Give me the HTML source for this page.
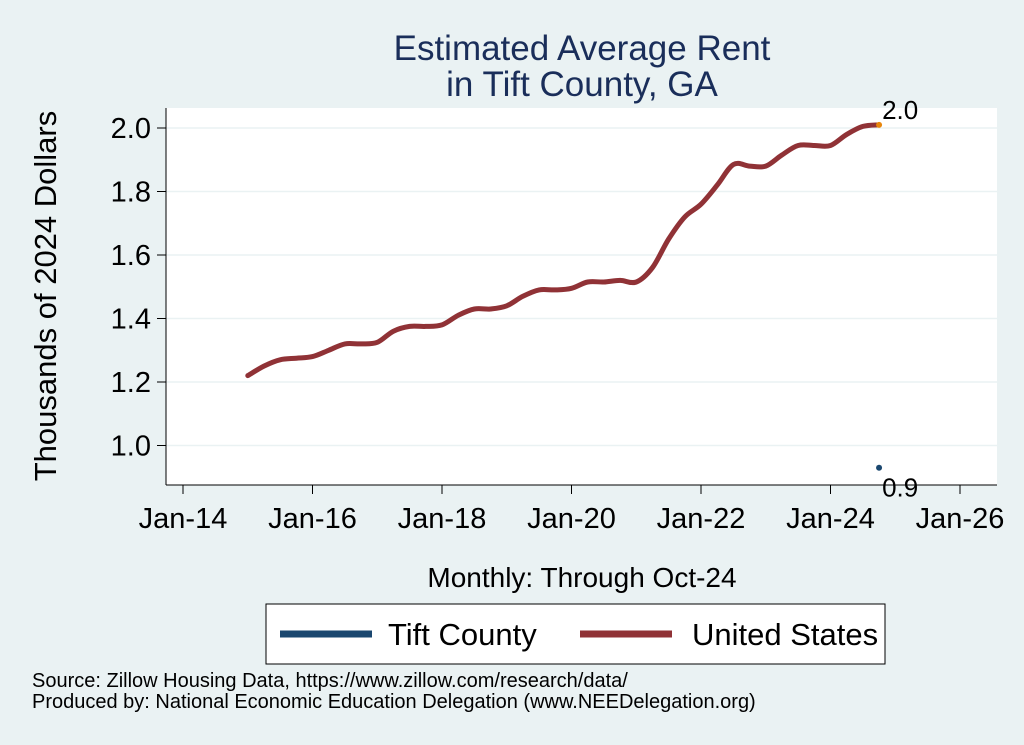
<!DOCTYPE html>
<html><head><meta charset="utf-8"><style>
body{margin:0;background:#eaf2f3;}
svg{display:block;font-family:"Liberation Sans",sans-serif;}
</style></head><body>
<svg id="chart" width="1024" height="745" viewBox="0 0 1024 745">
<rect x="0" y="0" width="1024" height="745" fill="#eaf2f3"/>
<text x="582" y="60" font-size="35" fill="#1a2e5a" text-anchor="middle">Estimated Average Rent</text>
<text x="582" y="96" font-size="35" fill="#1a2e5a" text-anchor="middle">in Tift County, GA</text>
<rect x="166" y="108" width="831" height="377" fill="#fff"/>
<g id="grid"></g>
<g id="axes"></g>
<g id="series"></g>
<text transform="translate(56,296) rotate(-90)" font-size="31" text-anchor="middle" fill="#000">Thousands of 2024 Dollars</text>
<text x="582" y="587" font-size="28" text-anchor="middle" fill="#000">Monthly: Through Oct-24</text>
<g>
<rect x="266" y="604" width="619" height="60" fill="#fff" stroke="#000" stroke-width="1"/>
<line x1="280" y1="634" x2="372" y2="634" stroke="#1a476f" stroke-width="7"/>
<text x="388" y="645" font-size="31">Tift County</text>
<line x1="580" y1="634" x2="672" y2="634" stroke="#903236" stroke-width="7"/>
<text x="692" y="645" font-size="31">United States</text>
</g>
<text x="32" y="687" font-size="20">Source: Zillow Housing Data, https://www.zillow.com/research/data/</text>
<text x="32" y="708" font-size="20">Produced by: National Economic Education Delegation (www.NEEDelegation.org)</text>
</svg>
<script>
const yTicks=[1.0,1.2,1.4,1.6,1.8,2.0];
const xTickYears=[2014,2016,2018,2020,2022,2024,2026];
const xTickLabels=["Jan-14","Jan-16","Jan-18","Jan-20","Jan-22","Jan-24","Jan-26"];
const usDates=[2015.0,2015.25,2015.5,2015.75,2016.0,2016.25,2016.5,2016.75,2017.0,2017.25,2017.5,2017.75,2018.0,2018.25,2018.5,2018.75,2019.0,2019.25,2019.5,2019.75,2020.0,2020.25,2020.5,2020.75,2021.0,2021.25,2021.5,2021.75,2022.0,2022.25,2022.5,2022.75,2023.0,2023.25,2023.5,2023.75,2024.0,2024.25,2024.5,2024.75];
const usValues=[1.22,1.25,1.27,1.275,1.28,1.30,1.32,1.32,1.325,1.36,1.375,1.375,1.38,1.41,1.43,1.43,1.44,1.47,1.49,1.49,1.495,1.515,1.515,1.52,1.515,1.56,1.65,1.72,1.76,1.82,1.885,1.88,1.88,1.915,1.945,1.945,1.945,1.98,2.005,2.01];
const tiftDate=2024.75, tiftValue=0.93;
const usLast=2.01;
const NS="http://www.w3.org/2000/svg";
function xs(t){return 183+(t-2014)*(777/12);}
function ys(v){return 445.5-(v-1.0)*317.5;}
function mk(tag,attrs,parent){const e=document.createElementNS(NS,tag);for(const k in attrs)e.setAttribute(k,attrs[k]);parent.appendChild(e);return e;}
const grid=document.getElementById('grid'),axes=document.getElementById('axes'),series=document.getElementById('series');
yTicks.forEach(v=>{
 const g=mk('line',{x1:166,x2:997,y1:ys(v),y2:ys(v),stroke:'#eaf2f3','stroke-width':1.5},grid);
 
 
 const t=mk('line',{x1:157,x2:166,y1:ys(v),y2:ys(v),stroke:'#000'},axes);
 
 
 const l=mk('text',{x:151,y:ys(v)+10,'font-size':29,'text-anchor':'end'},axes);
 l.textContent=v.toFixed(1);
 
 
});
mk('line',{x1:166,x2:166,y1:108,y2:485,stroke:'#000'},axes);
mk('line',{x1:166,x2:997,y1:485,y2:485,stroke:'#000'},axes);
xTickYears.forEach((yr,i)=>{
 const t=mk('line',{x1:xs(yr),x2:xs(yr),y1:485,y2:494,stroke:'#000'},axes);
 
 
 const l=mk('text',{x:xs(yr),y:528,'font-size':29,'text-anchor':'middle'},axes);
 l.textContent=xTickLabels[i];
 
 
});
const pts=usDates.map((t,i)=>[xs(t),ys(usValues[i])]);
let d='M'+pts[0][0].toFixed(1)+','+pts[0][1].toFixed(1);
for(let i=0;i<pts.length-1;i++){
 const p0=pts[Math.max(0,i-1)],p1=pts[i],p2=pts[i+1],p3=pts[Math.min(pts.length-1,i+2)];
 const c1=[p1[0]+(p2[0]-p0[0])/6,p1[1]+(p2[1]-p0[1])/6];
 const c2=[p2[0]-(p3[0]-p1[0])/6,p2[1]-(p3[1]-p1[1])/6];
 d+=' C'+c1[0].toFixed(1)+','+c1[1].toFixed(1)+' '+c2[0].toFixed(1)+','+c2[1].toFixed(1)+' '+p2[0].toFixed(1)+','+p2[1].toFixed(1);
}
const p=mk('path',{d:d,fill:'none',stroke:'#903236','stroke-width':5,'stroke-linejoin':'round','stroke-linecap':'round'},series);


const e1=mk('circle',{cx:xs(tiftDate),cy:ys(usLast),r:3,fill:'#e8860c'},series);


const l1=mk('text',{x:xs(tiftDate)+3,y:ys(usLast)-6,'font-size':26},series);
l1.textContent=usLast.toFixed(1);


const e2=mk('circle',{cx:xs(tiftDate),cy:ys(tiftValue),r:3,fill:'#1a476f'},series);


const l2=mk('text',{x:xs(tiftDate)+3,y:ys(tiftValue)+29,'font-size':26},series);
l2.textContent=tiftValue.toFixed(1);


</script>
</body></html>
